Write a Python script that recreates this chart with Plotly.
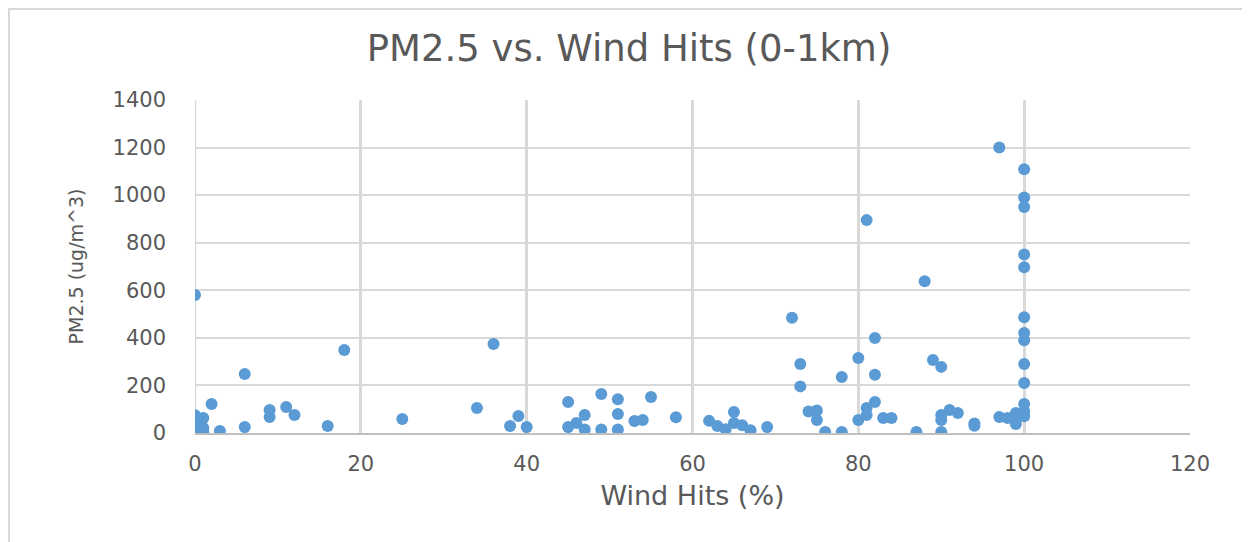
import plotly.graph_objects as go

wind_hits = [0, 0, 0, 0, 1, 1, 1, 2, 3, 6, 6, 9, 9, 11, 12, 16, 18, 25, 34, 36,
             38, 39, 40, 45, 45, 46, 47, 47, 49, 49, 51, 51, 51, 53, 54, 55, 58,
             62, 63, 64, 65, 65, 66, 67, 69, 72, 73, 73, 74, 75, 75, 76, 78, 78,
             80, 80, 81, 81, 81, 82, 82, 82, 83, 84, 87, 88, 89, 90, 90, 90, 90,
             91, 92, 94, 94, 97, 97, 98, 99, 99, 99,
             100, 100, 100, 100, 100, 100, 100, 100, 100, 100, 100, 100, 100]
pm25 = [580, 75, 40, 12, 63, 21, 5, 122, 8, 248, 25, 97, 67, 109, 76, 29, 349, 59, 105, 374,
        29, 71, 25, 130, 25, 42, 76, 15, 164, 15, 142, 80, 15, 50, 55, 151, 66,
        51, 29, 16, 88, 42, 33, 12, 25, 485, 290, 196, 90, 95, 55, 4, 235, 4,
        315, 55, 895, 105, 76, 399, 245, 130, 63, 63, 4, 638, 307, 278, 76, 55, 4,
        97, 84, 40, 30, 1200, 67, 63, 84, 60, 38,
        1109, 990, 950, 750, 697, 487, 420, 390, 290, 210, 122, 90, 70]

x_ticks = [0, 20, 40, 60, 80, 100, 120]
y_ticks = [0, 200, 400, 600, 800, 1000, 1200, 1400]

title_text = "PM2.5 vs. Wind Hits (0-1km)"
x_title = "Wind Hits (%)"
y_title = "PM2.5 (ug/m^3)"

FONT = "DejaVu Sans"
TXT = "#595959"
GRID = "#D9D9D9"

fig = go.Figure()
fig.add_trace(go.Scatter(
    x=wind_hits, y=pm25, mode="markers",
    marker=dict(color="#5B9BD5", size=12, line=dict(width=0)),
    showlegend=False,
))

# page offset of the plot canvas (body margin)
OFF = 8
W, H = 1242, 534
L, T = 195 - OFF, 100 - OFF
R = W - (1190 - OFF)
B = H - (433 - OFF)
pw, ph = W - L - R, H - T - B

fig.update_layout(
    width=W, height=H,
    margin=dict(l=L, r=R, t=T, b=B),
    paper_bgcolor="white", plot_bgcolor="white",
    font=dict(family=FONT, color=TXT),
    title=dict(text=title_text, x=(629 - OFF) / W, xanchor="center", y=1 - (48 - OFF) / H,
               yanchor="middle", font=dict(family=FONT, size=37, color=TXT)),
    xaxis=dict(range=[0, 120], tickvals=x_ticks, ticktext=[str(v) for v in x_ticks],
               showgrid=True, gridcolor=GRID, gridwidth=2.5, zeroline=False,
               showline=True, linecolor="#BFBFBF", linewidth=2,
               tickfont=dict(size=21, color=TXT), ticks="", ticklabelstandoff=11,
               title=dict(text=x_title, font=dict(size=27, color=TXT), standoff=11)),
    yaxis=dict(range=[0, 1400], tickvals=y_ticks, ticktext=[str(v) for v in y_ticks],
               showgrid=True, gridcolor=GRID, gridwidth=2, zeroline=False,
               showline=False,
               tickfont=dict(size=21, color=TXT), ticks="", ticklabelstandoff=28,
               title=dict(text=y_title, font=dict(size=19, color=TXT), standoff=23)),
)

# vertical grid line at x=0 (left edge of plot)
fig.add_shape(type="line", xref="x", yref="paper", x0=0, x1=0, y0=0, y1=1,
              line=dict(color=GRID, width=2.5), layer="below")

# chart outer border (top and left)
fig.add_shape(type="line", xref="paper", yref="paper",
              x0=(0 - L) / pw, x1=(W - L) / pw, y0=(H - B - 1) / ph, y1=(H - B - 1) / ph,
              line=dict(color=GRID, width=2))
fig.add_shape(type="line", xref="paper", yref="paper",
              x0=(1 - L) / pw, x1=(1 - L) / pw, y0=(H - B) / ph, y1=-B / ph,
              line=dict(color=GRID, width=2))

fig.write_html("out.html")
